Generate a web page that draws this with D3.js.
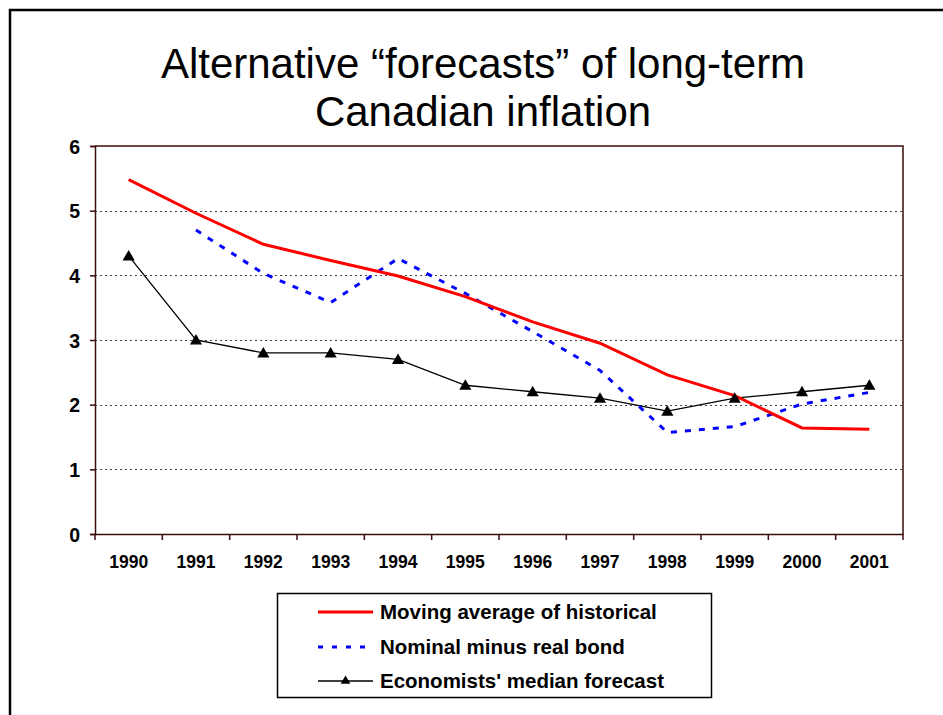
<!DOCTYPE html>
<html>
<head>
<meta charset="utf-8">
<script src="https://cdn.jsdelivr.net/npm/d3@7"></script>
<style>
	body { margin: 0; background: #fff; }
	svg { display: block; font-family: Arial, "Liberation Sans", sans-serif; }
</style>
</head>
<body>
<div id="chart"></div>
<script>
/*
	Alternative forecasts of long-term Canadian inflation, line chart with d3.
*/

var years = ['1990', '1991', '1992', '1993', '1994', '1995', '1996', '1997', '1998', '1999', '2000', '2001'];
var movingAverage = [5.48, 4.96, 4.48, 4.23, 3.99, 3.67, 3.28, 2.95, 2.46, 2.14, 1.64, 1.62];
var bondSpread = [null, 4.70, 4.03, 3.58, 4.26, 3.72, 3.13, 2.53, 1.57, 1.66, 2.01, 2.19];
var economists = [4.3, 3.0, 2.8, 2.8, 2.7, 2.3, 2.2, 2.1, 1.9, 2.1, 2.2, 2.3];
var yTicks = [0, 1, 2, 3, 4, 5, 6];
var titleLines = ['Alternative \u201cforecasts\u201d of long-term', 'Canadian inflation'];
var legendLabels = ['Moving average of historical', 'Nominal minus real bond', "Economists' median forecast"];

var width = 943;
var height = 715;
var plot = {left: 95, right: 903, top: 146, bottom: 534};
var axisColor = '#3b0d0d';

var svg = d3.select('#chart').append('svg')
	.attr('width', width)
	.attr('height', height);

// outer frame
svg.append('path')
	.attr('d', 'M10,' + height + 'V10H' + width)
	.attr('fill', 'none')
	.attr('stroke', '#000')
	.attr('stroke-width', 2.5);

svg.selectAll('text.title')
	.data(titleLines)
	.enter().append('text')
	.attr('class', 'title')
	.attr('x', 483)
	.attr('y', function(d, i){ return 78 + i * 48; })
	.attr('text-anchor', 'middle')
	.style('font-size', '42px')
	.attr('fill', '#000')
	.text(function(d){ return d; });

var x = d3.scaleBand()
	.domain(years)
	.range([plot.left, plot.right]);

var y = d3.scaleLinear()
	.domain([0, 6])
	.range([plot.bottom, plot.top]);

// dotted gridlines
svg.append('g')
	.selectAll('line')
	.data(yTicks.filter(function(d){ return d > 0 && d < 6; }))
	.enter().append('line')
	.attr('x1', plot.left)
	.attr('x2', plot.right)
	.attr('y1', function(d){ return Math.round(y(d)) + 0.5; })
	.attr('y2', function(d){ return Math.round(y(d)) + 0.5; })
	.attr('stroke', '#444')
	.attr('stroke-width', 1)
	.attr('stroke-dasharray', '2,3');

// plot border top and right
svg.append('path')
	.attr('d', 'M' + plot.left + ',' + plot.top + 'H' + plot.right + 'V' + plot.bottom)
	.attr('fill', 'none')
	.attr('stroke', axisColor)
	.attr('stroke-width', 1.5);

var yAxis = svg.append('g')
	.attr('transform', 'translate(' + plot.left + ',0)')
	.call(d3.axisLeft(y).tickValues(yTicks).tickSize(5).tickPadding(10).tickFormat(d3.format('d')));

var xAxis = svg.append('g')
	.attr('transform', 'translate(0,' + plot.bottom + ')')
	.call(d3.axisBottom(x).tickSize(0).tickPadding(22));

[yAxis, xAxis].forEach(function(ax){
	ax.select('.domain').attr('stroke', axisColor).attr('stroke-width', 1.5);
	ax.selectAll('.tick line').attr('stroke', axisColor).attr('stroke-width', 1.5);
	ax.selectAll('text').attr('fill', '#000').style('font-weight', 'bold').style('font-family', 'Arial, "Liberation Sans", sans-serif');
});
yAxis.selectAll('text').style('font-size', '19.5px').attr('dy', '0.36em');
xAxis.selectAll('text').style('font-size', '17.5px');

// category boundary ticks on the x axis
svg.append('g')
	.selectAll('line')
	.data(years.concat(['end']))
	.enter().append('line')
	.attr('x1', function(d, i){ return i < years.length ? x(d) : x(years[years.length - 1]) + x.bandwidth(); })
	.attr('x2', function(d, i){ return i < years.length ? x(d) : x(years[years.length - 1]) + x.bandwidth(); })
	.attr('y1', plot.bottom)
	.attr('y2', plot.bottom + 6)
	.attr('stroke', axisColor)
	.attr('stroke-width', 1.5);

var cx = function(i){ return x(years[i]) + x.bandwidth() / 2; };

var line = d3.line()
	.defined(function(d){ return d != null; })
	.x(function(d, i){ return cx(i); })
	.y(function(d){ return y(d); });

svg.append('path')
	.datum(economists)
	.attr('fill', 'none')
	.attr('stroke', '#000')
	.attr('stroke-width', 1.3)
	.attr('d', line);

svg.append('path')
	.datum(bondSpread)
	.attr('fill', 'none')
	.attr('stroke', '#0000ff')
	.attr('stroke-width', 3)
	.attr('stroke-dasharray', '6,8')
	.attr('d', line);

svg.append('path')
	.datum(movingAverage)
	.attr('fill', 'none')
	.attr('stroke', '#ff0000')
	.attr('stroke-width', 3)
	.attr('d', line);

var triangle = d3.symbol().type(d3.symbolTriangle).size(64);

svg.append('g')
	.selectAll('path')
	.data(economists)
	.enter().append('path')
	.attr('transform', function(d, i){ return 'translate(' + cx(i) + ',' + (y(d) + 1) + ')'; })
	.attr('d', triangle)
	.attr('fill', '#000');

// legend
var legend = svg.append('g');

legend.append('rect')
	.attr('x', 277.5)
	.attr('y', 593.5)
	.attr('width', 434)
	.attr('height', 104)
	.attr('fill', '#fff')
	.attr('stroke', '#000')
	.attr('stroke-width', 1.5);

var rowY = [612, 647, 681];

var rows = legend.selectAll('g.row')
	.data(legendLabels)
	.enter().append('g')
	.attr('class', 'row')
	.attr('transform', function(d, i){ return 'translate(0,' + rowY[i] + ')'; });

rows.append('line')
	.attr('x1', 318)
	.attr('x2', 373)
	.attr('stroke', function(d, i){ return ['#ff0000', '#0000ff', '#000'][i]; })
	.attr('stroke-width', function(d, i){ return [3, 3, 1.3][i]; })
	.attr('stroke-dasharray', function(d, i){ return i === 1 ? '5,9' : null; });

rows.filter(function(d, i){ return i === 2; })
	.append('path')
	.attr('transform', 'translate(345.5,0)')
	.attr('d', d3.symbol().type(d3.symbolTriangle).size(40))
	.attr('fill', '#000');

rows.append('text')
	.attr('x', 380)
	.attr('dy', '0.36em')
	.style('font-size', '20.5px')
	.style('font-weight', 'bold')
	.attr('fill', '#000')
	.text(function(d){ return d; });
</script>
</body>
</html>
